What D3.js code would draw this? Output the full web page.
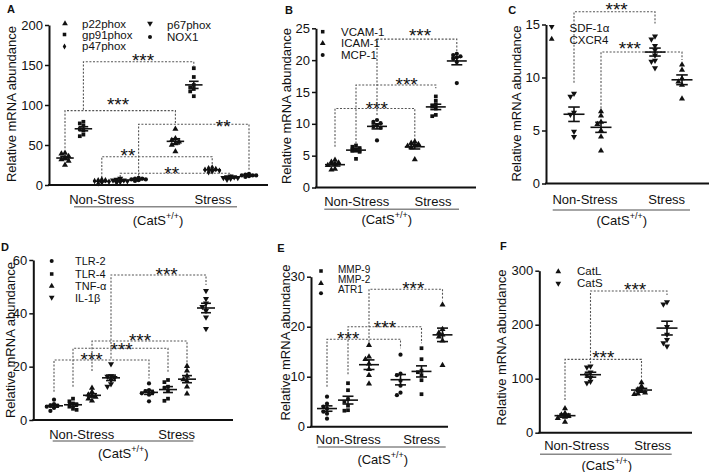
<!DOCTYPE html>
<html><head><meta charset="utf-8">
<script src="https://cdn.jsdelivr.net/npm/d3@7"></script>
<style>body{margin:0;background:#fff} text{font-family:Arial,"Liberation Sans",sans-serif;fill:#111}</style>
</head><body><svg id="c" width="709" height="472"></svg>
<script>
const groups = ["Non-Stress", "Stress"];

// Panel A
const aSeries = ["p22phox", "gp91phox", "p47phox", "p67phox", "NOX1"];
const aShapes = ["tri", "square", "diamond", "itri", "circle"];
const aNonStress = [[40, 39, 36, 34, 32, 30, 25], [79, 77, 74, 70, 68, 63, 61], [2, 3, 4, 5, 6, 7, 6], [3, 4, 5, 6, 6, 7, 8], [5, 6, 7, 7, 8, 8, 9]];
const aStress = [[70, 58, 56, 54, 52, 50, 42], [146, 135, 125, 122, 120, 117, 111], [16, 17, 18, 19, 20, 21, 22], [7, 8, 9, 9, 10, 10, 11], [10, 11, 12, 12, 13, 14, 12]];
const aTicks = [0, 50, 100, 150, 200];
const aBrackets = [
  {s: 0, y: 93, legs: [46, 76], label: "***", lx: 2.88, ly: 106},
  {s: 1, y: 154, legs: [94, 148], label: "***", lx: 4.24, ly: 161},
  {s: 2, y: 35.4, legs: [9, 26], label: "**", lx: 3.42, ly: 41.9},
  {s: 3, y: 14.6, legs: [10, 12.5], label: "**", lx: 5.8, ly: 19.6},
  {s: 4, y: 76, legs: [12, 19], label: "**", lx: 8.6, ly: 79}
];

// Panel B
const bSeries = ["ICAM-1", "VCAM-1", "MCP-1"];
const bShapes = ["tri", "square", "circle"];
const bNonStress = [[4.3, 4.0, 3.9, 3.7, 3.5, 2.9, 2.8], [6.6, 6.4, 6.2, 6.0, 5.8, 5.6, 4.5], [10.6, 10.3, 10.1, 9.8, 9.6, 9.4, 7.4]];
const bStress = [[7.2, 7.0, 6.8, 6.6, 6.5, 6.3, 4.4], [14.3, 13.6, 13.0, 12.7, 12.4, 11.4, 11.2], [21.0, 20.8, 20.6, 20.4, 20.2, 19.7, 16.4]];
const bTicks = [0, 5, 10, 15, 20, 25];
const bBrackets = [
  {s: 0, y: 12.4, legs: [6.4, 7.2], label: "***", lx: 1.99, ly: 13.1},
  {s: 1, y: 16.1, legs: [6.9, 15.6], label: "***", lx: 3.41, ly: 16.9},
  {s: 2, y: 23.3, legs: [11.4, 21.3], label: "***", lx: 4.05, ly: 24.5}
];
const bLegend = ["VCAM-1", "ICAM-1", "MCP-1"];
const bLegendShapes = ["square", "tri", "circle"];

// Panel C
const cSeries = ["SDF-1\u03b1", "CXCR4"];
const cShapes = ["itri", "tri"];
const cNonStress = [[8.5, 8.2, 6.7, 6.5, 4.9, 4.4], [6.8, 6.4, 5.8, 5.6, 5.0, 4.4, 3.1]];
const cStress = [[13.9, 13.6, 13.0, 12.6, 12.1, 11.6, 11.5, 10.9], [11.2, 10.7, 9.9, 9.6, 9.3, 8.0]];
const cTicks = [0, 5, 10, 15];
const cBrackets = [
  {s: 0, y: 16.2, legs: [9.5, 15.1], label: "***", lx: 1.58, ly: 16.8},
  {s: 1, y: 12.4, legs: [7.1, 11.65], label: "***", lx: 2.07, ly: 13.1}
];

// Panel D
const dSeries = ["TLR-2", "TLR-4", "TNF-\u03b1", "IL-1\u03b2"];
const dShapes = ["circle", "square", "tri", "itri"];
const dNonStress = [[7.6, 6.0, 5.5, 5.3, 5.0, 4.5, 3.4], [8.0, 7.0, 6.2, 5.8, 5.0, 4.2, 3.8], [12.0, 10.5, 9.5, 9.0, 8.6, 8.0, 7.2], [21.0, 16.5, 16.3, 15.8, 15.0, 13.5, 12.6]];
const dStress = [[13.7, 11.2, 10.8, 10.3, 10.0, 9.5, 7.0], [15.0, 14.2, 12.5, 12.0, 11.0, 8.0, 7.2], [20.2, 18.5, 16.5, 15.2, 14.5, 12.5, 9.8], [48.5, 45.5, 43.8, 42.5, 41.0, 38.5, 34.2]];
const dTicks = [0, 20, 40, 60];
const dBrackets = [
  {s: 0, y: 22.5, legs: [10.6, 15.6], label: "***", lx: 1.98, ly: 24.4},
  {s: 1, y: 26.9, legs: [12.5, 17.5], label: "***", lx: 3.56, ly: 28.1},
  {s: 2, y: 29.6, legs: [18.4, 21.2], label: "***", lx: 4.53, ly: 31.4},
  {s: 3, y: 54.4, legs: [23.1, 50.6], label: "***", lx: 5.93, ly: 56.2}
];

// Panel E
const eSeries = ["ATR1", "MMP-9", "MMP-2"];
const eShapes = ["circle", "square", "tri"];
const eNonStress = [[6.0, 4.6, 4.0, 3.6, 3.0, 2.6, 1.6], [8.7, 7.3, 5.5, 5.0, 4.2, 3.3, 3.2], [16.3, 14.0, 13.5, 12.6, 11.5, 10.3, 8.6]];
const eStress = [[14.4, 10.6, 10.3, 9.2, 8.2, 6.8, 6.3], [15.7, 13.5, 11.2, 10.9, 10.3, 9.3, 6.5], [24.4, 19.5, 18.8, 18.4, 18.0, 17.2, 12.3]];
const eTicks = [0, 10, 20, 30];
const eBrackets = [
  {s: 0, y: 17.5, legs: [8, 15.7], label: "***", lx: 1.01, ly: 18.5},
  {s: 1, y: 20, legs: [10.5, 16.7], label: "***", lx: 2.76, ly: 20.7},
  {s: 2, y: 27.5, legs: [17, 25.3], label: "***", lx: 4.11, ly: 28.5}
];
const eLegend = ["MMP-9", "MMP-2", "ATR1"];
const eLegendShapes = ["square", "tri", "circle"];

// Panel F
const fSeries = ["CatL", "CatS"];
const fShapes = ["tri", "itri"];
const fNonStress = [[45, 36, 33, 31, 29, 27, 20], [123, 121, 112, 107, 102, 95, 92]];
const fStress = [[93, 86, 80, 77, 74, 72, 71], [242, 238, 196, 182, 172, 166, 160]];
const fTicks = [0, 100, 200, 300];
const fBrackets = [
  {s: 0, y: 135.8, legs: [60.5, 100.7], label: "***", lx: 1.5, ly: 147},
  {s: 1, y: 262.4, legs: [128.5, 255], label: "***", lx: 2.75, ly: 273.5}
];

const yTitle = "Relative mRNA abundance";

const panels = [
  {letter: "A", lp: [11, 9], series: aSeries, shapes: aShapes, values: [aNonStress, aStress], ticks: aTicks, brackets: aBrackets,
   yr: [185, 25], axisX: 49, axisEnd: 268, slot0: 65, step: 18.4, gap: 1, ytx: 11, yty: 104, lfs: 11.5,
   legend: [[aSeries[0], aShapes[0], 65, 23.5, 82, 24], [aSeries[1], aShapes[1], 64.5, 34.5, 82, 34.5], [aSeries[2], aShapes[2], 64.5, 46.5, 82, 46],
            [aSeries[3], aShapes[3], 150, 23.5, 167, 25], [aSeries[4], aShapes[4], 150, 37, 167, 36.5]],
   xl: {ns: [101.7, 199], s: [213, 199], line: [74, 237, 206.7], cat: [158, 220]}},
  {letter: "B", lp: [289, 10], series: bSeries, shapes: bShapes, values: [bNonStress, bStress], ticks: bTicks, brackets: bBrackets,
   yr: [187.5, 28.3], axisX: 316, axisEnd: 476, slot0: 335, step: 21, gap: 0.8, ytx: 286.7, yty: 106, lfs: 11.5,
   legend: bLegend.map((n, i) => [n, bLegendShapes[i], 322.7, 31.7 + i * 11.7, 341, 31.7 + i * 11.7]),
   xl: {ns: [356.7, 201.5], s: [433, 201.5], line: [324.3, 459, 209.3], cat: [386.7, 219.5]}},
  {letter: "C", lp: [512.3, 10], series: cSeries, shapes: cShapes, values: [cNonStress, cStress], ticks: cTicks, brackets: cBrackets,
   yr: [183.5, 24.5], axisX: 546, axisEnd: 709, slot0: 574, step: 27, gap: 1, ytx: 516.7, yty: 103.5, lfs: 11.5,
   legend: [[cSeries[0], cShapes[0], 551.7, 26.7, 569.5, 28.3], [cSeries[1], cShapes[1], 551.7, 39, 569.5, 39.5]],
   xl: {ns: [585, 199.3], s: [666.7, 199.3], line: [552.7, 690, 210], cat: [621.7, 220]}},
  {letter: "D", lp: [5, 246.7], series: dSeries, shapes: dShapes, values: [dNonStress, dStress], ticks: dTicks, brackets: dBrackets,
   yr: [420, 260], axisX: 33.3, axisEnd: 233, slot0: 54, step: 19, gap: 1, ytx: 10, yty: 340, lfs: 11,
   legend: [[dSeries[0], dShapes[0], 51.7, 261, 75, 260.5], [dSeries[1], dShapes[1], 51.7, 274, 75, 274], [dSeries[2], dShapes[2], 51.7, 286, 75, 286], [dSeries[3], dShapes[3], 51.7, 297.3, 75, 297.5]],
   xl: {ns: [81.7, 434.3], s: [176.7, 434.3], line: [52.7, 193.3, 441], cat: [123.3, 453.3]}},
  {letter: "E", lp: [281, 247.7], series: eSeries, shapes: eShapes, values: [eNonStress, eStress], ticks: eTicks, brackets: eBrackets,
   yr: [426.7, 276.7], axisX: 311, axisEnd: 448, slot0: 327, step: 21, gap: 0.5, ytx: 285, yty: 342.5, lfs: 10,
   legend: [[eLegend[0], eLegendShapes[0], 321, 271, 338, 269.8], [eLegend[1], eLegendShapes[1], 321, 283.3, 338, 279.6], [eLegend[2], eLegendShapes[2], 321, 293.3, 338, 289.4]],
   xl: {ns: [348.3, 439.3], s: [421.7, 439.3], line: [317.7, 445.7, 447], cat: [382.7, 459.3]}},
  {letter: "F", lp: [503.3, 245.7], series: fSeries, shapes: fShapes, values: [fNonStress, fStress], ticks: fTicks, brackets: fBrackets,
   yr: [432.7, 270.7], axisX: 539.3, axisEnd: 692, slot0: 565, step: 25.5, gap: 1, ytx: 501.7, yty: 347.5, lfs: 11.5,
   legend: [[fSeries[0], fShapes[0], 558.3, 271.7, 577, 270.5], [fSeries[1], fShapes[1], 558.3, 283.3, 577, 283.3]],
   xl: {ns: [576.7, 445.7], s: [652.7, 445.7], line: [540, 671.7, 454.3], cat: [606.7, 465]}}
];

const svg = d3.select("#c");
const FONT = "Arial, 'Liberation Sans', sans-serif";

function symPath(shape, size) {
  const t = {tri: d3.symbolTriangle, itri: d3.symbolTriangle, square: d3.symbolSquare, circle: d3.symbolCircle, diamond: d3.symbolDiamond}[shape];
  const sz = {tri: 16, itri: 16, square: 14, circle: 14, diamond: 12}[shape] * (size || 1);
  return d3.symbol().type(t).size(sz)();
}

function drawPanel(p) {
  const g = svg.append("g");
  const y = d3.scaleLinear().domain([p.ticks[0], p.ticks[p.ticks.length - 1]]).range(p.yr);
  const x = d3.scaleLinear().domain([0, 1]).range([p.slot0, p.slot0 + p.step]);
  const n = p.series.length;
  const slot = (gi, i) => gi * (n + p.gap) + i;
  const meanW = Math.min(p.step * 0.95, 21);
  const capW = meanW * 0.55;

  // brackets
  p.brackets.forEach(b => {
    const x1 = x(slot(0, b.s)), x2 = x(slot(1, b.s));
    const path = d3.path();
    path.moveTo(x1, y(b.legs[0])); path.lineTo(x1, y(b.y)); path.lineTo(x2, y(b.y)); path.lineTo(x2, y(b.legs[1]));
    g.append("path").attr("d", path.toString()).attr("fill", "none").attr("stroke", "#555")
      .attr("stroke-width", 1.1).attr("stroke-dasharray", "2,1.6");
    g.append("text").attr("x", x(b.lx)).attr("y", y(b.ly) + 0.57 * 19).attr("text-anchor", "middle")
      .attr("font-size", 19).attr("font-family", FONT).text(b.label);
  });

  // points + mean/SEM
  p.values.forEach((grp, gi) => {
    grp.forEach((vals, i) => {
      const cx = x(slot(gi, i));
      const d = 3.6;
      const placed = [];
      vals.slice().sort((a, b) => b - a).forEach(v => {
        const py = y(v);
        let best = null, bestD = -1;
        for (const k of [0, -1, 1, -2, 2]) {
          const px = cx + k * d;
          const md = placed.length ? d3.min(placed, q => Math.hypot(q[0] - px, q[1] - py)) : Infinity;
          if (md >= d) { best = px; break; }
          if (md > bestD + 0.8) { bestD = md; best = px; }
        }
        placed.push([best, py]);
      });
      g.append("g").selectAll("path").data(placed).join("path")
        .attr("d", symPath(p.shapes[i]))
        .attr("transform", q => `translate(${q[0]},${q[1]})` + (p.shapes[i] === "itri" ? " rotate(180)" : ""))
        .attr("fill", "#111");
      const m = d3.mean(vals), sem = d3.deviation(vals) / Math.sqrt(vals.length);
      const lg = g.append("g").attr("stroke", "#111").attr("stroke-width", 1.6);
      lg.append("line").attr("x1", cx - meanW / 2).attr("x2", cx + meanW / 2).attr("y1", y(m)).attr("y2", y(m));
      lg.append("line").attr("x1", cx).attr("x2", cx).attr("y1", y(m - sem)).attr("y2", y(m + sem));
      [m - sem, m + sem].forEach(v => lg.append("line").attr("x1", cx - capW / 2).attr("x2", cx + capW / 2).attr("y1", y(v)).attr("y2", y(v)));
    });
  });

  // y axis
  const ax = g.append("g").attr("transform", `translate(${p.axisX},0)`)
    .call(d3.axisLeft(y).tickValues(p.ticks).tickSize(4).tickSizeOuter(0).tickPadding(2));
  ax.attr("font-family", FONT).attr("font-size", 13);
  ax.select(".domain").attr("stroke", "#111").attr("stroke-width", 2);
  ax.selectAll(".tick line").attr("stroke", "#111").attr("stroke-width", 1.5);
  ax.selectAll(".tick text").attr("fill", "#111");
  // x axis line
  g.append("line").attr("x1", p.axisX - 1).attr("x2", p.axisEnd).attr("y1", y(0)).attr("y2", y(0))
    .attr("stroke", "#111").attr("stroke-width", 2);

  // y title
  g.append("text").attr("transform", `translate(${p.ytx},${p.yty}) rotate(-90)`).attr("text-anchor", "middle")
    .attr("dominant-baseline", "central").attr("font-size", 13).attr("font-family", FONT).text(yTitle);

  // panel letter
  g.append("text").attr("x", p.lp[0]).attr("y", p.lp[1]).attr("text-anchor", "middle").attr("dominant-baseline", "central")
    .attr("font-size", 11).attr("font-weight", "bold").attr("font-family", FONT).text(p.letter);

  // legend
  p.legend.forEach(([name, shape, sx, sy, tx, ty]) => {
    g.append("path").attr("d", symPath(shape, 0.9)).attr("transform", `translate(${sx},${sy})` + (shape === "itri" ? " rotate(180)" : "")).attr("fill", "#111");
    g.append("text").attr("x", tx).attr("y", ty).attr("dominant-baseline", "central").attr("font-size", p.lfs).attr("font-family", FONT).text(name);
  });

  // x labels
  g.append("text").attr("x", p.xl.ns[0]).attr("y", p.xl.ns[1]).attr("text-anchor", "middle").attr("dominant-baseline", "central")
    .attr("font-size", 13).attr("font-family", FONT).text(groups[0]);
  g.append("text").attr("x", p.xl.s[0]).attr("y", p.xl.s[1]).attr("text-anchor", "middle").attr("dominant-baseline", "central")
    .attr("font-size", 13).attr("font-family", FONT).text(groups[1]);
  g.append("line").attr("x1", p.xl.line[0]).attr("x2", p.xl.line[1]).attr("y1", p.xl.line[2]).attr("y2", p.xl.line[2])
    .attr("stroke", "#888").attr("stroke-width", 1.6);
  const ct = g.append("text").attr("x", p.xl.cat[0]).attr("y", p.xl.cat[1] + 4.6).attr("text-anchor", "middle")
    .attr("font-size", 13).attr("font-family", FONT);
  ct.append("tspan").text("(CatS");
  ct.append("tspan").attr("dy", -6).attr("font-size", 9).text("+/+");
  ct.append("tspan").attr("dy", 6).text(")");
}

panels.forEach(drawPanel);
</script>
</body></html>
